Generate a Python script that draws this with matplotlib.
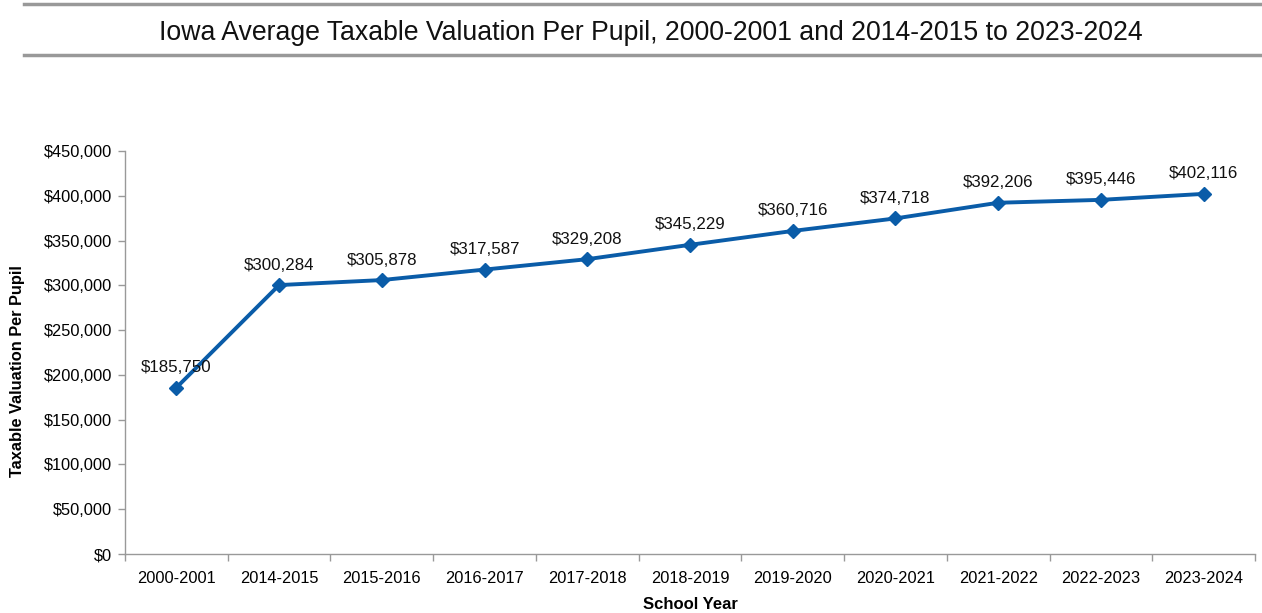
import matplotlib.pyplot as plt
from matplotlib.lines import Line2D
from matplotlib.ticker import FuncFormatter, MultipleLocator, FixedLocator
import numpy as np

plt.rcParams['font.family'] = ['Liberation Sans', 'DejaVu Sans']

years = ['2000-2001', '2014-2015', '2015-2016', '2016-2017', '2017-2018', '2018-2019',
         '2019-2020', '2020-2021', '2021-2022', '2022-2023', '2023-2024']
values = [185750, 300284, 305878, 317587, 329208, 345229, 360716, 374718, 392206, 395446, 402116]

W, H = 1262, 613
fig = plt.figure(figsize=(W / 100, H / 100), dpi=100)
ax = fig.add_axes([125 / W, 1 - 554 / H, 1130 / W, (554 - 151) / H])

x = np.arange(len(years))
line_color = '#0A5CA8'
ax.plot(x, values, color=line_color, lw=2.8, marker='D', ms=7, zorder=3)

for xi, v in zip(x, values):
    ax.annotate(f'${v:,.0f}', (xi, v), xytext=(0, 9), textcoords='offset points',
                ha='center', va='bottom', fontsize=12.2, color='#111111')

ax.set_xlim(-0.5, len(years) - 0.5)
ax.set_ylim(0, 450000)
ax.yaxis.set_major_locator(MultipleLocator(50000))
ax.yaxis.set_major_formatter(FuncFormatter(lambda v, p: f'${v:,.0f}'))
ax.set_xticks(x)
ax.set_xticklabels(years)
ax.xaxis.set_minor_locator(FixedLocator(np.arange(-0.5, len(years), 1.0)))
ax.tick_params(axis='x', which='major', length=0, pad=12, labelsize=11.8)
ax.tick_params(axis='x', which='minor', length=5, color='#999999', width=1)
ax.tick_params(axis='y', length=5, color='#999999', width=1, labelsize=11.8, pad=4)

for s in ['top', 'right']:
    ax.spines[s].set_visible(False)
for s in ['left', 'bottom']:
    ax.spines[s].set_color('#999999')
    ax.spines[s].set_linewidth(1)

ax.set_xlabel('School Year', fontsize=12, fontweight='bold', labelpad=8)
# y label sits a bit below the axis middle in the original
fig.text(18 / W, 1 - 371 / H, 'Taxable Valuation Per Pupil', rotation=90,
         ha='center', va='center', fontsize=11.8, fontweight='bold')

# title with grey rules above and below
fig.text(651 / W, 1 - 33 / H, 'Iowa Average Taxable Valuation Per Pupil, 2000-2001 and 2014-2015 to 2023-2024',
         ha='center', va='center', fontsize=19.2, color='#111111')
for yy in [4, 55]:
    fig.add_artist(Line2D([24 / W, 1.0], [1 - yy / H, 1 - yy / H], color='#999999', lw=2.5,
                          transform=fig.transFigure))

fig.savefig('out.png', dpi=100)
